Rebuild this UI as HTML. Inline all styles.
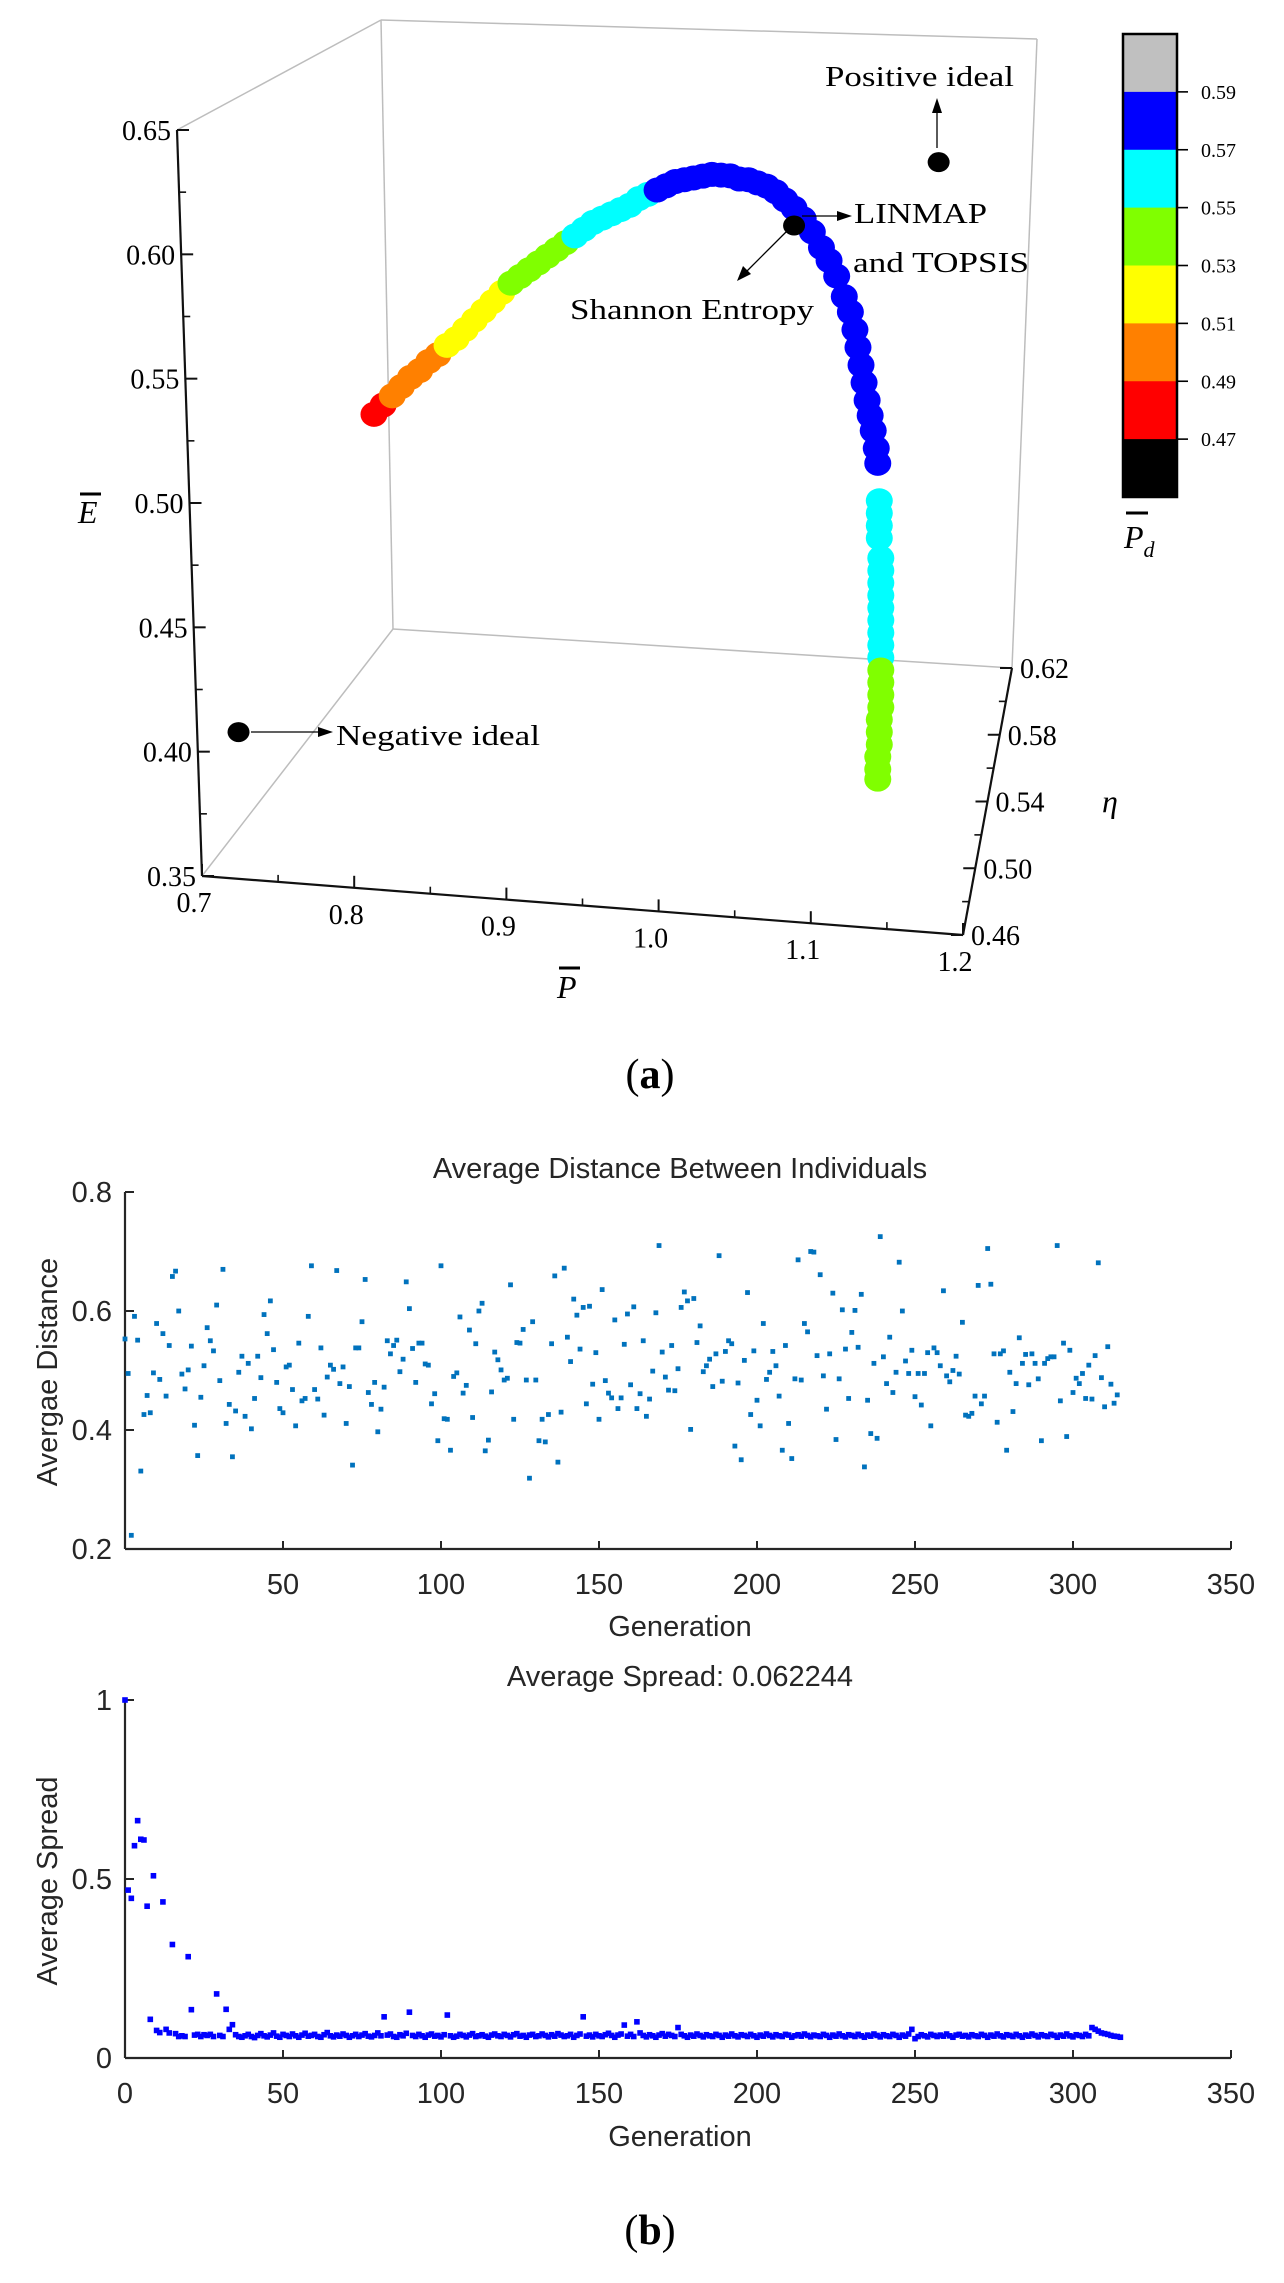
<!DOCTYPE html>
<html><head><meta charset="utf-8"><style>
html,body{margin:0;padding:0;background:#fff}
svg{display:block}
</style></head><body>
<svg id="fig" xmlns="http://www.w3.org/2000/svg" width="1284" height="2283" viewBox="0 0 1284 2283">
<rect x="0" y="0" width="1284" height="2283" fill="#fff"/>
<g id="g3d" font-family="Liberation Serif, serif">
  <g stroke="#bdbdbd" stroke-width="1.5" fill="none">
    <line x1="177" y1="130" x2="381" y2="20"/>
    <line x1="381" y1="20" x2="1037" y2="39"/>
    <line x1="381" y1="20" x2="393" y2="629"/>
    <line x1="393" y1="629" x2="1012" y2="668"/>
    <line x1="393" y1="629" x2="202" y2="876"/>
    <line x1="1037" y1="39" x2="1012" y2="668"/>
  </g>
  <g stroke="#111" stroke-width="2.2" fill="none">
    <line x1="177" y1="130" x2="202" y2="876"/>
    <line x1="202" y1="876" x2="963" y2="935"/>
    <line x1="963" y1="935" x2="1012" y2="668"/>
  </g>
  <g id="ticks3d"></g>
  <g id="curve3d"></g>
  <g font-size="29" fill="#000">
    <text x="825" y="86" textLength="189" lengthAdjust="spacingAndGlyphs">Positive ideal</text>
    <text x="854" y="223" textLength="133" lengthAdjust="spacingAndGlyphs">LINMAP</text>
    <text x="853" y="272" textLength="176" lengthAdjust="spacingAndGlyphs">and TOPSIS</text>
    <text x="570" y="319" textLength="244" lengthAdjust="spacingAndGlyphs">Shannon Entropy</text>
    <text x="336" y="745" textLength="204" lengthAdjust="spacingAndGlyphs">Negative ideal</text>
  </g>
  <g stroke="#000" stroke-width="1.3" fill="#000">
    <line x1="937" y1="148" x2="937" y2="112"/><polygon points="937,98 932,113 942,113" stroke="none"/>
    <line x1="802" y1="216" x2="838" y2="216"/><polygon points="852,216 837,211 837,221" stroke="none"/>
    <line x1="786" y1="232" x2="746" y2="272"/><polygon points="737,281 743,266 751,274" stroke="none"/>
    <line x1="251" y1="732" x2="318" y2="732"/><polygon points="333,732 318,727 318,737" stroke="none"/>
  </g>
  <text x="78" y="523" font-size="32" font-style="italic">E</text>
  <line x1="80" y1="494" x2="101" y2="494" stroke="#000" stroke-width="3"/>
  <text x="557" y="998" font-size="32" font-style="italic">P</text>
  <line x1="559" y1="968" x2="580" y2="968" stroke="#000" stroke-width="3"/>
  <text x="1102" y="812" font-size="32" font-style="italic">η</text>
  <g id="cbar"></g>
  <text x="1124" y="548" font-size="32" font-style="italic">P<tspan font-size="22" dy="9">d</tspan></text>
  <line x1="1126" y1="513" x2="1148" y2="513" stroke="#000" stroke-width="3"/>
  <text x="650" y="1088" font-size="42" text-anchor="middle">(<tspan font-weight="bold">a</tspan>)</text>
</g>
<g id="plot1" font-family="Liberation Sans, sans-serif" fill="#262626"></g>
<g id="plot2" font-family="Liberation Sans, sans-serif" fill="#262626"></g>
<text x="650" y="2244" font-size="42" text-anchor="middle" font-family="Liberation Serif, serif">(<tspan font-weight="bold">b</tspan>)</text>
</svg>
<script>
const NS = 'http://www.w3.org/2000/svg';
// ===== 3D chart data =====
const curveP = [0.813,0.819,0.825,0.831,0.837,0.843,0.849,0.855,0.861,0.867,0.873,0.879,0.885,0.891,0.897,0.903,0.909,0.915,0.921,0.927,0.933,0.939,0.945,0.951,0.957,0.963,0.969,0.975,0.981,0.987,0.993,
0.999,1.005,1.011,1.017,1.023,1.029,1.035,1.041,1.047,1.053,1.059,1.065,1.071,1.077,1.083,1.089,1.095,1.101,1.107,1.112,1.117,
1.122,1.126,1.129,1.131,1.133,1.135,1.137,1.139,1.141,1.143,1.144,
1.145,1.145,1.145,1.145,
1.146,1.146,1.146,1.146,1.146,1.146,1.146,1.146,1.146,
1.146,1.146,1.146,1.146,1.145,1.145,1.145,1.144,1.144,1.144];
const curveE = [0.541,0.545,0.549,0.553,0.557,0.560,0.564,0.567,0.571,0.574,0.578,0.582,0.586,0.590,0.594,0.598,0.601,0.604,0.607,0.610,0.613,0.616,0.619,0.622,0.625,0.627,0.629,0.631,0.633,0.636,0.638,
0.640,0.642,0.644,0.645,0.646,0.647,0.648,0.648,0.648,0.647,0.647,0.646,0.645,0.643,0.640,0.637,0.633,0.628,0.622,0.617,0.611,
0.603,0.597,0.590,0.583,0.576,0.569,0.562,0.556,0.550,0.543,0.537,
0.522,0.517,0.512,0.507,
0.499,0.494,0.489,0.484,0.479,0.474,0.469,0.464,0.459,
0.454,0.449,0.444,0.439,0.434,0.429,0.424,0.419,0.414,0.410];
const curvePd = [0.48,0.48,0.50,0.50,0.50,0.50,0.50,0.50,0.52,0.52,0.52,0.52,0.52,0.52,0.52,0.54,0.54,0.54,0.54,0.54,0.54,0.54,0.56,0.56,0.56,0.56,0.56,0.56,0.56,0.56,0.56,
0.58,0.58,0.58,0.58,0.58,0.58,0.58,0.58,0.58,0.58,0.58,0.58,0.58,0.58,0.58,0.58,0.58,0.58,0.58,0.58,0.58,
0.58,0.58,0.58,0.58,0.58,0.58,0.58,0.58,0.58,0.58,0.58,
0.56,0.56,0.56,0.56,
0.56,0.56,0.56,0.56,0.56,0.56,0.56,0.56,0.56,
0.54,0.54,0.54,0.54,0.54,0.54,0.54,0.54,0.54,0.54];
const idealNames = ['positive-ideal','linmap-topsis-point','negative-ideal'];
const idealP = [1.184,1.089,0.724];
const idealE = [0.660,0.630,0.409];
const eTicks = [0.35,0.40,0.45,0.50,0.55,0.60,0.65];
const pTicks = [0.7,0.8,0.9,1.0,1.1,1.2];
const etaTicks = [0.46,0.50,0.54,0.58,0.62];
const cbarColors = ['#c0c0c0','#0000ff','#00ffff','#80ff00','#ffff00','#ff8000','#ff0000','#000000'];
const cbarTicks = ['0.59','0.57','0.55','0.53','0.51','0.49','0.47'];

function px3(P){ return 202 + (P-0.7)*1522; }
function py3(E,P){ return 876 - (E-0.35)*2487 + (P-0.7)*118; }
function pdColor(v){
  if(v<0.47) return '#000000'; if(v<0.49) return '#ff0000'; if(v<0.51) return '#ff8000';
  if(v<0.53) return '#ffff00'; if(v<0.55) return '#80ff00'; if(v<0.57) return '#00ffff';
  if(v<0.59) return '#0000ff'; return '#c0c0c0';
}
function mk(tag, attrs, parent){ const e=document.createElementNS(NS,tag); for(const k in attrs) e.setAttribute(k,attrs[k]); parent.appendChild(e); return e; }

const t3 = document.getElementById('ticks3d');
eTicks.forEach((v,i)=>{
  const f=(0.65-v)/0.3, x=177+25*f, y=130+746*f;
  const t=mk('line',{x1:x,y1:y,x2:x+12,y2:y,stroke:'#111','stroke-width':2},t3);
  
  
  if(i<eTicks.length-1){ const f2=(0.65-v-0.025)/0.3; mk('line',{x1:177+25*f2,y1:130+746*f2,x2:177+25*f2+7,y2:130+746*f2,stroke:'#111','stroke-width':1.6},t3); }
  const lb=mk('text',{x:x-6,y:y+10,'font-size':28,'text-anchor':'end'},t3);
  
  
  lb.textContent=v.toFixed(2);
});
pTicks.forEach((v,i)=>{
  const f=(v-0.7)/0.5, x=202+761*f, y=876+59*f;
  mk('line',{x1:x,y1:y,x2:x,y2:y-12,stroke:'#111','stroke-width':2},t3);
  if(i<pTicks.length-1){ const f2=f+0.1; mk('line',{x1:202+761*f2,y1:876+59*f2,x2:202+761*f2,y2:876+59*f2-7,stroke:'#111','stroke-width':1.6},t3); }
  const lb=mk('text',{x:x-8,y:y+36,'font-size':28,'text-anchor':'middle'},t3);
  
  
  lb.textContent=v.toFixed(1);
});
etaTicks.forEach((v,i)=>{
  const f=(v-0.46)/0.16, x=963+49*f, y=935-267*f;
  mk('line',{x1:x,y1:y,x2:x-12,y2:y,stroke:'#111','stroke-width':2},t3);
  if(i<etaTicks.length-1){ const f2=f+0.125; mk('line',{x1:963+49*f2,y1:935-267*f2,x2:963+49*f2-7,y2:935-267*f2,stroke:'#111','stroke-width':1.6},t3); }
  const lb=mk('text',{x:x+8,y:y+10,'font-size':28},t3);
  
  
  lb.textContent=v.toFixed(2);
});
const cg = document.getElementById('curve3d');
curveP.forEach((P,i)=>{
  const d=mk('ellipse',{cx:px3(P),cy:py3(curveE[i],P),rx:13.5,ry:12.5,fill:pdColor(curvePd[i])},cg);
  
  
});
idealP.forEach((P,i)=>{
  const d=mk('ellipse',{cx:px3(P),cy:py3(idealE[i],P),rx:11,ry:10,fill:'#000'},cg);
  
  
});
const cb=document.getElementById('cbar');
const segH=(497-34)/cbarColors.length;
cbarColors.forEach((c,i)=>{
  const r=mk('rect',{x:1123,y:34+i*segH,width:54,height:segH+0.5,fill:c},cb);
  
  
});
mk('rect',{x:1123,y:34,width:54,height:463,fill:'none',stroke:'#000','stroke-width':2.5},cb);
cbarTicks.forEach((t,i)=>{
  const y=34+(i+1)*segH;
  mk('line',{x1:1177,y1:y,x2:1188,y2:y,stroke:'#000','stroke-width':1.6},cb);
  const lb=mk('text',{x:1201,y:y+7,'font-size':20},cb);
  
  
  lb.textContent=t;
});

// ===== 2D plots data =====
const distValues = [0.553,0.495,0.223,0.591,0.551,0.331,0.426,0.458,0.429,0.496,0.579,0.485,0.562,0.457,0.542,0.658,0.667,0.600,0.494,0.469,
0.501,0.541,0.408,0.357,0.455,0.508,0.572,0.550,0.533,0.610,0.483,0.670,0.411,0.443,0.355,0.432,0.497,0.524,0.423,0.512,
0.402,0.453,0.524,0.488,0.594,0.562,0.617,0.535,0.480,0.436,0.429,0.506,0.509,0.468,0.407,0.546,0.449,0.453,0.591,0.676,
0.468,0.452,0.538,0.425,0.489,0.509,0.502,0.668,0.478,0.506,0.411,0.473,0.341,0.538,0.538,0.582,0.653,0.463,0.443,0.480,
0.397,0.435,0.472,0.550,0.528,0.542,0.551,0.498,0.519,0.649,0.604,0.537,0.480,0.546,0.546,0.511,0.509,0.444,0.461,0.382,
0.676,0.419,0.418,0.366,0.490,0.496,0.590,0.462,0.475,0.568,
0.421,0.545,0.600,0.613,0.365,0.383,0.464,0.531,0.518,0.501,0.484,0.487,0.644,0.418,0.547,0.546,0.569,0.484,0.319,0.582,
0.484,0.382,0.418,0.380,0.426,0.545,0.659,0.346,0.430,0.672,0.556,0.515,0.620,0.593,0.536,0.606,0.444,0.608,0.477,0.530,
0.418,0.636,0.483,0.462,0.454,0.585,0.436,0.454,0.544,0.595,0.476,0.607,0.436,0.461,0.550,0.423,0.452,0.499,0.597,0.710,
0.531,0.489,0.467,0.542,0.466,0.503,0.606,0.632,0.617,0.401,0.621,0.547,0.575,0.498,0.508,0.519,0.473,0.528,0.693,0.482,
0.532,0.550,0.545,0.373,0.479,0.350,0.517,0.631,0.426,0.533,0.450,0.407,0.579,0.485,0.497,0.532,0.508,0.457,0.366,0.542,
0.411,0.352,0.486,0.686,0.484,0.579,0.565,0.700,
0.699,0.525,0.661,0.491,0.435,0.528,0.630,0.384,0.486,0.602,0.536,0.453,0.564,0.601,0.539,0.628,0.338,0.450,0.394,0.512,
0.386,0.725,0.523,0.478,0.556,0.463,0.497,0.682,0.600,0.516,0.495,0.534,0.456,0.495,0.442,0.495,0.530,0.407,0.538,0.530,
0.508,0.634,0.491,0.481,0.500,0.524,0.494,0.581,0.425,0.423,0.428,0.457,0.643,0.444,0.457,0.705,0.645,0.528,0.413,0.528,
0.533,0.366,0.497,0.431,0.478,0.555,0.512,0.527,0.476,0.528,0.512,0.486,0.382,0.512,0.520,0.523,0.523,0.710,0.449,0.546,
0.389,0.534,0.463,0.487,0.478,0.495,0.453,0.509,0.452,0.525,0.681,0.488,0.439,0.540,0.477,0.445,0.459];
const spreadValues = [1.0,0.469,0.446,0.593,0.663,0.611,0.609,0.424,0.108,0.509,0.077,0.071,0.436,0.080,0.070,0.317,0.068,0.060,0.062,0.060,
0.283,0.135,0.064,0.066,0.060,0.065,0.063,0.066,0.060,0.179,0.063,0.060,0.136,
0.080,0.093,0.065,0.060,0.058,0.062,0.066,0.060,0.057,0.063,0.068,0.062,0.059,0.064,0.070,0.061,0.058,0.066,0.063,0.060,
0.067,0.062,0.058,0.064,0.069,0.061,0.063,0.066,0.060,0.058,0.065,0.071,0.062,0.059,0.064,0.061,0.067,0.063,0.058,0.062,
0.066,0.060,0.064,0.068,0.061,0.059,0.063,0.070,0.062,0.115,0.064,0.067,0.060,0.058,0.065,0.062,0.069,0.128,0.063,0.060,
0.066,0.062,0.058,0.064,0.067,0.061,0.063,0.059,0.065,0.120,0.062,0.058,0.061,0.066,0.063,0.059,0.064,0.068,0.060,0.062,
0.065,0.061,0.058,0.064,0.067,0.062,0.060,0.066,0.063,0.059,0.065,0.068,0.061,0.063,0.058,0.064,0.066,0.060,0.062,0.067,
0.063,0.059,0.065,0.061,0.068,0.064,0.060,0.062,0.066,0.058,0.063,0.067,0.115,0.061,0.064,0.059,0.066,0.062,0.060,0.065,
0.069,0.063,0.058,0.064,0.067,0.092,0.061,0.066,0.060,0.101,0.070,0.063,0.059,0.065,0.062,0.058,0.064,0.068,0.061,0.066,
0.063,0.060,0.085,0.066,0.062,0.058,0.064,0.061,0.067,0.063,0.059,0.065,0.062,0.060,0.066,0.063,0.058,0.064,0.061,0.067,
0.062,0.059,0.065,0.063,0.060,0.066,0.062,0.058,0.064,0.061,0.067,0.063,0.059,0.065,0.062,0.060,0.066,0.064,0.058,0.062,
0.065,0.061,0.067,0.063,0.059,0.064,0.062,0.060,0.066,0.063,0.058,0.064,0.061,0.067,0.062,0.059,0.065,0.063,0.060,0.066,
0.062,0.058,0.064,0.061,0.067,0.063,0.059,0.065,0.062,0.060,0.066,0.063,0.058,0.064,0.061,0.067,0.080,0.054,0.060,0.065,
0.062,0.059,0.066,0.063,0.060,0.064,0.061,0.067,0.062,0.058,0.064,0.066,0.061,0.063,0.059,0.065,0.062,0.060,0.066,0.063,
0.058,0.064,0.061,0.067,0.062,0.059,0.065,0.063,0.060,0.066,0.062,0.058,0.064,0.061,0.067,0.063,0.059,0.065,0.062,0.060,
0.066,0.063,0.058,0.064,0.061,0.067,0.062,0.059,0.065,0.063,0.060,0.066,0.062,0.085,0.080,0.075,0.070,0.068,0.066,0.063,0.061,0.060,0.058];
const xTicks1 = [50,100,150,200,250,300,350];
const xTicks2 = [0,50,100,150,200,250,300,350];
const yTicks1 = [0.2,0.4,0.6,0.8];
const yTicks2 = [0,0.5,1];
const yTickLabels2 = ['0','0.5','1'];

const X0=125, XU=3.16;
function gx(g){ return X0 + g*XU; }
function yD(v){ return 1549 - (v-0.2)/0.6*357; }
function yS(v){ return 2058 - v*358; }

function drawAxes(g, yTop, yBot, xt, xtLabels, yt, ytLabels, yfun, ylabelY, ylabel, title, titleY, genY, tickLblY){
  mk('line',{x1:X0,y1:yTop,x2:X0,y2:yBot,stroke:'#262626','stroke-width':2.2},g);
  mk('line',{x1:X0,y1:yBot,x2:gx(350),y2:yBot,stroke:'#262626','stroke-width':2.2},g);
  xt.forEach((v,i)=>{
    mk('line',{x1:gx(v),y1:yBot,x2:gx(v),y2:yBot-8,stroke:'#262626','stroke-width':2},g);
    const t=mk('text',{x:gx(v),y:tickLblY,'font-size':29,'text-anchor':'middle'},g);
    
    
    t.textContent=xtLabels[i];
  });
  yt.forEach((v,i)=>{
    const y=yfun(v);
    mk('line',{x1:X0,y1:y,x2:X0+9,y2:y,stroke:'#262626','stroke-width':2},g);
    const t=mk('text',{x:112,y:y+10,'font-size':29,'text-anchor':'end'},g);
    
    
    t.textContent=ytLabels[i];
  });
  const yl=mk('text',{x:0,y:0,'font-size':29,'text-anchor':'middle',transform:'translate(57,'+ylabelY+') rotate(-90)'},g);
  
  
  yl.textContent=ylabel;
  const tt=mk('text',{x:680,y:titleY,'font-size':29,'text-anchor':'middle'},g);
  
  
  tt.textContent=title;
  const xl=mk('text',{x:680,y:genY,'font-size':29,'text-anchor':'middle'},g);
  
  
  xl.textContent='Generation';
}
const p1=document.getElementById('plot1');
drawAxes(p1,1192,1549,xTicks1,xTicks1.map(String),yTicks1,yTicks1.map(v=>v.toFixed(1)),yD,1372,'Avergae Distance','Average Distance Between Individuals',1178,1636,1594);
distValues.forEach((v,i)=>{
  const r=mk('rect',{x:gx(i)-2.4,y:yD(v)-2.4,width:4.8,height:4.8,fill:'#0072BD'},p1);
  
  
});
const p2=document.getElementById('plot2');
drawAxes(p2,1700,2058,xTicks2,xTicks2.map(String),yTicks2,yTickLabels2,yS,1881,'Average Spread','Average Spread: 0.062244',1686,2146,2103);
spreadValues.forEach((v,i)=>{
  const r=mk('rect',{x:gx(i)-2.8,y:yS(v)-2.8,width:5.6,height:5.6,fill:'#0000ff'},p2);
  
  
});
</script>
</body></html>
